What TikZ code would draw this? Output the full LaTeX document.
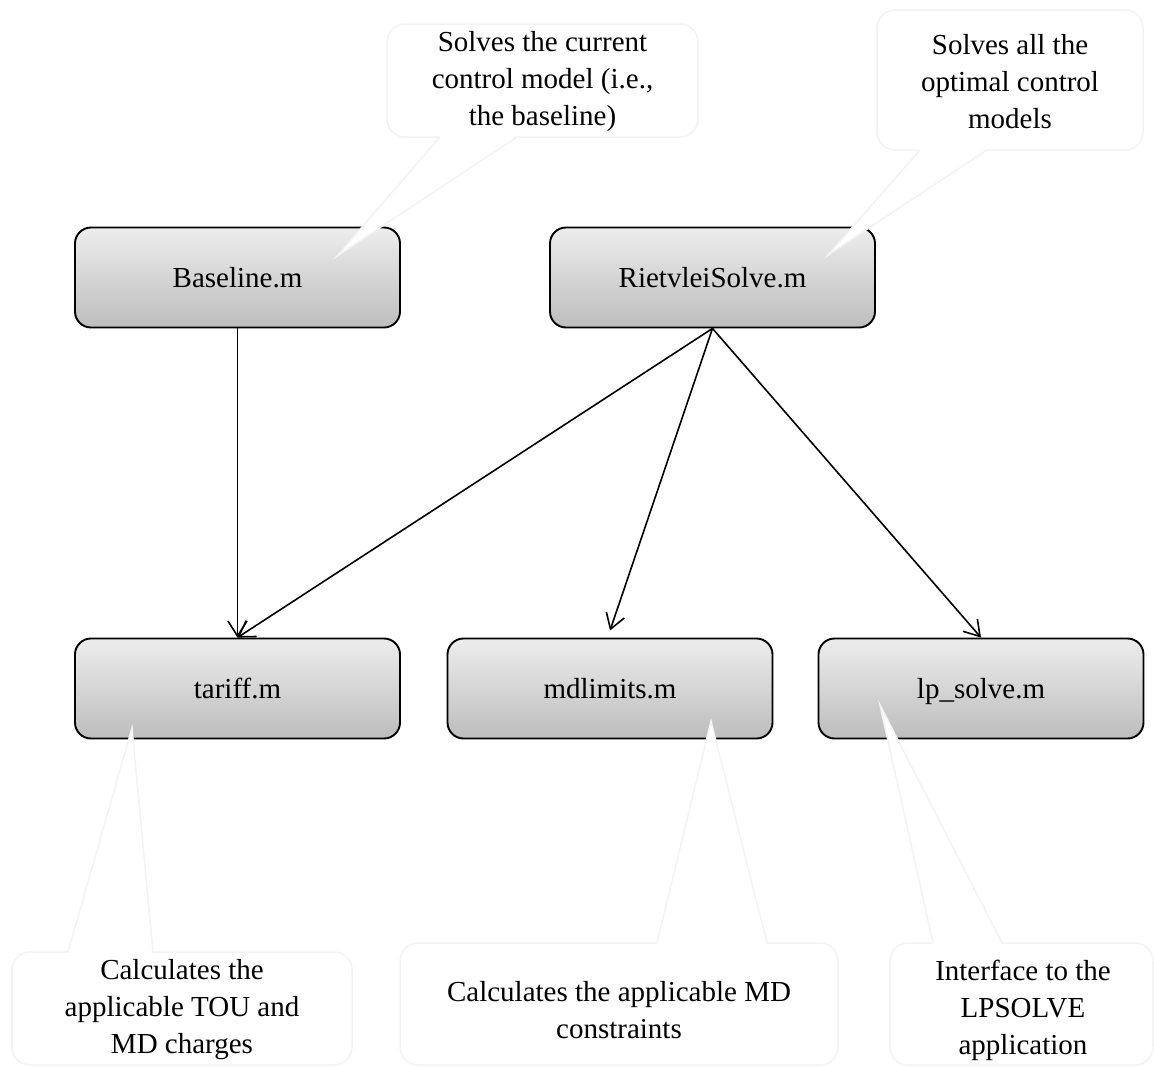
\documentclass[tikz,border=0pt]{standalone}
\usepackage{fontspec}
\setmainfont{Liberation Serif}
\usetikzlibrary{arrows.meta}
\definecolor{cstrokecol}{HTML}{F3F3F3}
\definecolor{boxtop}{HTML}{EDEDED}
\definecolor{boxbot}{HTML}{BDBDBD}
\tikzset{
  modbox/.style={draw=black, line width=1.9pt, rounded corners=16pt,
    top color=boxtop, bottom color=boxbot, shading angle=0,
    minimum width=325pt, minimum height=100pt, inner sep=0pt,
    text height=26pt, text depth=6pt,
    font=\fontsize{29}{37}\selectfont},
  callbox/.style={draw=cstrokecol, line width=1.5pt, fill=white, rounded corners=18pt},
  callside/.style={draw=cstrokecol, line width=1.5pt},
  calltext/.style={align=center, inner sep=0pt, font=\fontsize{29}{37}\selectfont},
  link/.style={line width=1.6pt, -{Straight Barb[length=15pt,width=19pt,line width=1.6pt]}}
}
\begin{document}
\begin{tikzpicture}[x=1pt,y=-1pt]
\useasboundingbox[fill=white] (0,0) rectangle (1154,1066);

% modules
\node[modbox] (base) at (237.5,277.5) {Baseline.m};
\node[modbox] (rs)   at (712.5,277.5) {RietvleiSolve.m};
\node[modbox] (tar)  at (237.5,688.5) {tariff.m};
\node[modbox] (md)   at (610,688.5)   {mdlimits.m};
\node[modbox] (lp)   at (981,688.5)   {lp\_solve.m};

% connectors
\draw[link] (base.south) -- (tar.north);
\draw[link] (rs.south) -- (tar.north);
\draw[link] (rs.south) -- ([yshift=7pt]md.north);
\draw[link] (rs.south) -- (lp.north);

% callout 1
\draw[callbox] (387,24) rectangle (698,137);
\fill[white] (440,135) -- (337,256) -- (517,135) -- cycle;
\draw[callside] (440,137) -- (337,256) -- (517,137);
\node[calltext] (c1) at (542.5,82) {Solves the current\\control model (i.e.,\\the baseline)};

% callout 2
\draw[callbox] (877,10) rectangle (1143,150);
\fill[white] (920,148) -- (828,255) -- (987,148) -- cycle;
\draw[callside] (920,150) -- (828,255) -- (987,150);
\node[calltext] (c2) at (1010,82) {Solves all the\\optimal control\\models};

% callout 3
\draw[callbox] (12,952) rectangle (352,1065);
\fill[white] (68,954) -- (132,728) -- (153,954) -- cycle;
\draw[callside] (68,952) -- (132,728) -- (153,952);
\node[calltext] (c3) at (182,1010) {Calculates the\\applicable TOU and\\MD charges};

% callout 4
\draw[callbox] (400,943) rectangle (838,1065);
\fill[white] (657,945) -- (711,721) -- (767,945) -- cycle;
\draw[callside] (657,943) -- (711,721) -- (767,943);
\node[calltext] (c4) at (619,1010) {Calculates the applicable MD\\constraints};

% callout 5
\draw[callbox] (890,943) rectangle (1153,1065);
\fill[white] (933,945) -- (880,705) -- (1002,945) -- cycle;
\draw[callside] (933,943) -- (880,705) -- (1002,943);
\node[calltext] (c5) at (1023,1010) {Interface to the\\LPSOLVE\\application};
\end{tikzpicture}
\end{document}
